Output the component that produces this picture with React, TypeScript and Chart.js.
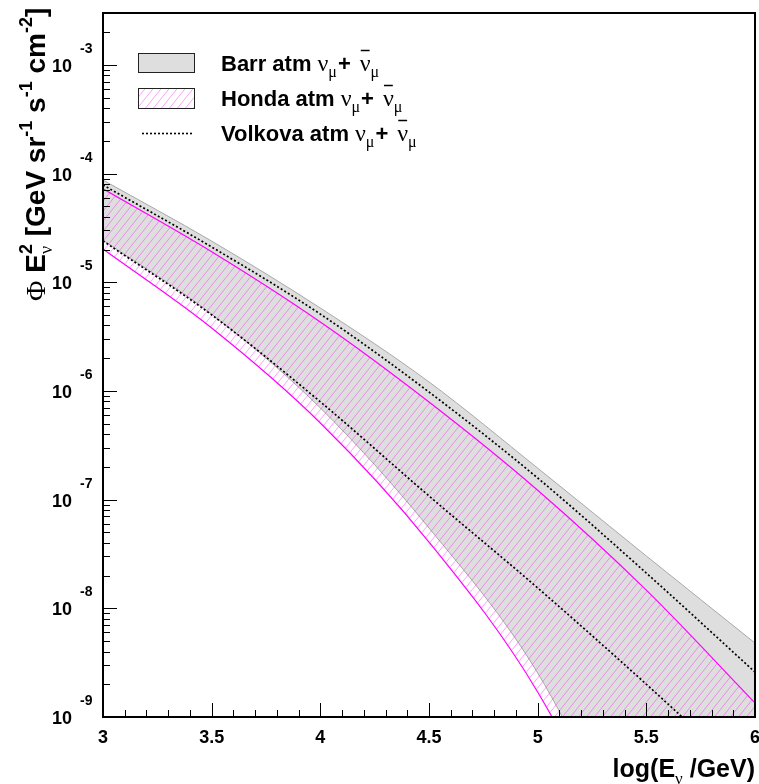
import React, { useEffect, useRef } from 'react';
import { Chart, registerables } from 'chart.js';
Chart.register(...registerables);

// ---- data (log10(E/GeV) vs flux E^2 * Phi) ----
const energies = [3, 3.5, 4, 4.5, 5, 5.5, 6];
const barrUpper = [8.71e-5, 2.39e-5, 5.79e-6, 1.21e-6, 1.95e-7, 3.03e-8, 4.79e-9];
const barrLower = [2.44e-5, 5.09e-6, 6.97e-7, 5.48e-8, 2.54e-9, 2.7e-11, 2.7e-13];
const hondaUpper = [7.24e-5, 1.91e-5, 4.31e-6, 7.91e-7, 1.22e-7, 1.47e-8, 1.35e-9];
const hondaLower = [2.02e-5, 3.79e-6, 5.07e-7, 4.07e-8, 1.7e-9, 1.8e-11, 1.2e-13];
const volkovaUpper = [7.85e-5, 2.11e-5, 5.09e-6, 9.77e-7, 1.58e-7, 2.11e-8, 2.59e-9];
const volkovaLower = [2.4e-5, 5.01e-6, 7.94e-7, 1.08e-7, 1.54e-8, 2.0e-9, 2.4e-10];

const xTickValues = [3, 3.5, 4, 4.5, 5, 5.5, 6];
const xTickLabels = ['3', '3.5', '4', '4.5', '5', '5.5', '6'];
const yDecades = [-9, -8, -7, -6, -5, -4, -3];
const legendLabels = ['Barr atm', 'Honda atm', 'Volkova atm'];

const SANS = '"Liberation Sans", Arial, sans-serif';
const SERIF = '"Liberation Serif", "DejaVu Serif", serif';

type Part = { t: string; font: string; dy?: number; bar?: boolean; stackNext?: boolean; gap?: number };

function drawParts(ctx: CanvasRenderingContext2D, x: number, y: number, parts: Part[], measureOnly = false): number {
  let cx = x;
  let i = 0;
  while (i < parts.length) {
    const p = parts[i];
    ctx.font = p.font;
    const w = ctx.measureText(p.t).width;
    if (!measureOnly) {
      ctx.fillText(p.t, cx, y + (p.dy || 0));
      if (p.bar) {
        ctx.save();
        ctx.lineWidth = 1.5;
        ctx.beginPath();
        ctx.moveTo(cx + 1, y - 20.5);
        ctx.lineTo(cx + w - 1, y - 20.5);
        ctx.stroke();
        ctx.restore();
      }
    }
    let adv = w;
    if (p.stackNext && i + 1 < parts.length) {
      const q = parts[i + 1];
      ctx.font = q.font;
      const w2 = ctx.measureText(q.t).width;
      if (!measureOnly) ctx.fillText(q.t, cx, y + (q.dy || 0));
      adv = Math.max(w, w2);
      i++;
    }
    cx += adv + (p.gap || 0);
    i++;
  }
  return cx - x;
}

function makeHatch(): CanvasPattern | string {
  const c = document.createElement('canvas');
  c.width = 8;
  c.height = 10;
  const g = c.getContext('2d');
  if (!g) return 'rgba(255,0,255,0.3)';
  g.strokeStyle = 'rgba(255,0,255,0.42)';
  g.lineWidth = 0.9;
  for (const dx of [-8, 0, 8]) {
    g.beginPath();
    g.moveTo(dx, 10);
    g.lineTo(dx + 8, 0);
    g.stroke();
  }
  return g.createPattern(c, 'repeat') || 'rgba(255,0,255,0.3)';
}

const nu = (bar = false, gap = 0): Part => ({ t: 'ν', font: `24px ${SERIF}`, bar, gap });
const mu = (gap = 0): Part => ({ t: 'μ', font: `16px ${SERIF}`, dy: 6, gap });

export default function App() {
  const ref = useRef<HTMLCanvasElement | null>(null);

  useEffect(() => {
    if (!ref.current) return;
    const hatch = makeHatch();
    const pts = (ys: number[]) => energies.map((x, i) => ({ x, y: ys[i] }));

    const overlay = {
      id: 'rootStyle',
      afterDraw(chart: any) {
        const ctx: CanvasRenderingContext2D = chart.ctx;
        const a = chart.chartArea;
        const xs = chart.scales.x;
        const ys = chart.scales.y;
        ctx.save();
        ctx.fillStyle = '#000';
        ctx.strokeStyle = '#000';

        // ticks on x axis (inside)
        ctx.lineWidth = 1;
        for (let k = 0; k <= 30; k++) {
          const v = 3 + k * 0.1;
          const px = Math.round(xs.getPixelForValue(v)) + 0.5;
          const len = k % 5 === 0 ? 14 : 7;
          ctx.beginPath();
          ctx.moveTo(px, a.bottom);
          ctx.lineTo(px, a.bottom - len);
          ctx.stroke();
        }
        // ticks on y axis (inside)
        for (let e = -9; e <= -3; e++) {
          for (let m = 1; m <= 9; m++) {
            const v = m * Math.pow(10, e);
            if (v > ys.max * 1.0001) continue;
            const py = Math.round(ys.getPixelForValue(v)) + 0.5;
            const len = m === 1 ? 14 : 7;
            ctx.beginPath();
            ctx.moveTo(a.left, py);
            ctx.lineTo(a.left + len, py);
            ctx.stroke();
          }
        }

        // frame
        ctx.lineWidth = 2;
        ctx.strokeRect(a.left, a.top, a.right - a.left, a.bottom - a.top);

        // x tick labels
        ctx.font = `bold 18px ${SANS}`;
        ctx.textAlign = 'center';
        ctx.textBaseline = 'alphabetic';
        xTickValues.forEach((v, i) => {
          ctx.fillText(xTickLabels[i], xs.getPixelForValue(v), a.bottom + 26);
        });

        // y tick labels 10^e
        yDecades.forEach((e) => {
          const py = ys.getPixelForValue(Math.pow(10, e));
          ctx.font = `bold 18px ${SANS}`;
          ctx.textAlign = 'right';
          ctx.fillText('10', 72, py + 7);
          ctx.font = `bold 14px ${SANS}`;
          ctx.textAlign = 'left';
          ctx.fillText(String(e), 80, py - 12);
        });

        // x title
        ctx.textAlign = 'left';
        const xParts: Part[] = [
          { t: 'log(E', font: `bold 25px ${SANS}` },
          { t: 'ν', font: `17px ${SERIF}`, dy: 7 },
          { t: ' /GeV)', font: `bold 25px ${SANS}` },
        ];
        const xw = drawParts(ctx, 0, 0, xParts, true);
        drawParts(ctx, a.right - xw, 777, xParts);

        // y title (rotated)
        ctx.save();
        ctx.translate(45, 301);
        ctx.rotate(-Math.PI / 2);
        const B = `bold 28px ${SANS}`;
        const S = `bold 18px ${SANS}`;
        drawParts(ctx, 0, 0, [
          { t: 'Φ', font: `28px ${SERIF}` },
          { t: ' E', font: B },
          { t: 'ν', font: `18px ${SERIF}`, dy: 7, stackNext: true },
          { t: '2', font: S, dy: -13 },
          { t: ' [GeV sr', font: B },
          { t: '-1', font: S, dy: -13 },
          { t: ' s', font: B },
          { t: '-1', font: S, dy: -13 },
          { t: ' cm', font: B },
          { t: '-2', font: S, dy: -13 },
          { t: ']', font: B },
        ]);
        ctx.restore();

        // legend
        ctx.lineWidth = 1;
        ctx.fillStyle = '#dedede';
        ctx.fillRect(138, 53, 56, 19);
        ctx.strokeStyle = '#222';
        ctx.strokeRect(138.5, 53.5, 56, 19);
        ctx.fillStyle = '#fff';
        ctx.fillRect(138, 88, 56, 20);
        ctx.fillStyle = hatch as any;
        ctx.fillRect(138, 88, 56, 20);
        ctx.strokeRect(138.5, 88.5, 56, 20);
        ctx.save();
        ctx.strokeStyle = '#000';
        ctx.lineWidth = 1.6;
        ctx.setLineDash([2, 2]);
        ctx.beginPath();
        ctx.moveTo(142, 133.5);
        ctx.lineTo(194, 133.5);
        ctx.stroke();
        ctx.restore();

        ctx.fillStyle = '#000';
        ctx.strokeStyle = '#000';
        const baselines = [71, 106, 141];
        legendLabels.forEach((lab, i) => {
          drawParts(ctx, 221, baselines[i], [
            { t: lab, font: `bold 22px ${SANS}`, gap: 6 },
            nu(),
            mu(1),
            { t: '+', font: `bold 22px ${SANS}`, gap: 9 },
            nu(true),
            mu(),
          ]);
        });
        ctx.restore();
      },
    };

    const chart = new Chart(ref.current, {
      type: 'line',
      data: {
        datasets: [
          { label: 'Volkova upper', data: pts(volkovaUpper), borderColor: '#000', borderWidth: 1.7, borderDash: [2, 2.2], fill: false },
          { label: 'Volkova lower', data: pts(volkovaLower), borderColor: '#000', borderWidth: 1.7, borderDash: [2, 2.2], fill: false },
          { label: 'Honda lower', data: pts(hondaLower), borderColor: '#ff00ff', borderWidth: 1.2, fill: false },
          { label: 'Honda upper', data: pts(hondaUpper), borderColor: '#ff00ff', borderWidth: 1.2, fill: '-1', backgroundColor: hatch as any },
          { label: 'Barr lower', data: pts(barrLower), borderColor: '#a8a8a8', borderWidth: 1, fill: false },
          { label: 'Barr upper', data: pts(barrUpper), borderColor: '#a8a8a8', borderWidth: 1, fill: '-1', backgroundColor: '#dedede' },
        ] as any,
      },
      options: {
        responsive: false,
        devicePixelRatio: 1,
        animation: false,
        events: [],
        layout: { padding: { left: 103, top: 13, right: 4, bottom: 67 } },
        elements: {
          point: { radius: 0 },
          line: { cubicInterpolationMode: 'monotone', capBezierPoints: false } as any,
        },
        scales: {
          x: { type: 'linear', min: 3, max: 6, display: false },
          y: { type: 'logarithmic', min: 1e-9, max: 3e-3, display: false },
        },
        plugins: {
          legend: { display: false },
          tooltip: { enabled: false },
        },
      },
      plugins: [overlay],
    });
    return () => chart.destroy();
  }, []);

  return (
    <div style={{ position: 'absolute', left: 0, top: 0, width: 759, height: 784, background: '#fff' }}>
      <canvas ref={ref} width={759} height={784} style={{ width: 759, height: 784, display: 'block' }} />
    </div>
  );
}
